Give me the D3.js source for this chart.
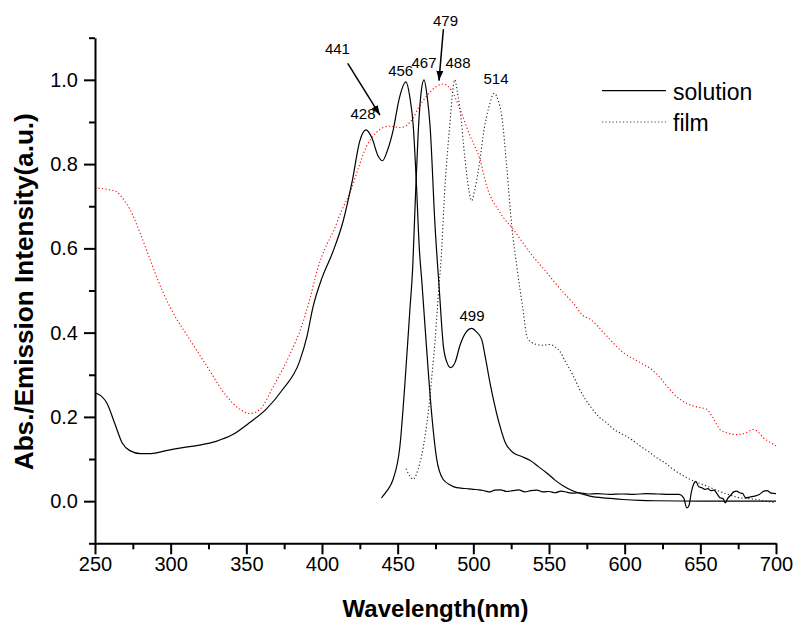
<!DOCTYPE html>
<html>
<head>
<meta charset="utf-8">
<script src="https://cdn.jsdelivr.net/npm/d3@7"></script>
<style>
  body { margin: 0; background: #fff; }
  svg { font-family: "Liberation Sans", Arial, sans-serif; }
</style>
</head>
<body>
<div id="chart"></div>
<script>
// wavelength (nm), value pairs
const solutionAbs = [
  [250,0.257],[254,0.25],[258,0.232],[263,0.185],[268,0.138],[273,0.12],[280,0.113],[287,0.113],
  [297,0.12],[308,0.127],[319,0.133],[330,0.142],[341,0.158],[352,0.186],[363,0.218],[374,0.265],
  [385,0.33],[390,0.39],[394,0.46],[400,0.53],[407,0.59],[414,0.665],[420,0.76],[425,0.855],
  [429,0.881],[433,0.862],[437,0.82],[440,0.808],[443,0.83],[447,0.88],[451,0.955],[455.5,0.995],
  [458,0.96],[460.3,0.891],[462.3,0.76],[464.3,0.6],[466,0.52],[469,0.368],[472.4,0.21],[475.8,0.1],
  [480,0.052],[485,0.038],[489,0.032],[495,0.030],[500,0.028],[504,0.027],[508,0.024],[511,0.022],
  [514,0.026],[518,0.027],[522,0.023],[526,0.025],[530,0.027],[534,0.022],[538,0.025],[542,0.026],
  [546,0.022],[550,0.023],[554,0.020],[558,0.024],[562,0.021],[566,0.019],[570,0.02],[576,0.017],
  [582,0.018],[590,0.016],[598,0.017],[606,0.016],[614,0.018],[622,0.017],[630,0.016],[636,0.016],
  [639,0.008],[641,-0.016],[642.5,-0.01],[644,0.02],[645.5,0.04],[647,0.047],[649,0.034],[651,0.032],
  [653,0.028],[655,0.03],[657,0.025],[659,0.026],[661,0.018],[663,0.008],[665,0.006],[666.5,-0.004],
  [668,0.006],[670,0.014],[672,0.022],[674,0.024],[676,0.02],[678,0.018],[680,0.008],[683,0.010],
  [686,0.012],[689,0.016],[692,0.024],[694,0.025],[697,0.019],[700,0.018]
]

const solutionEm = [
  [439.3,0.008],[443,0.025],[447,0.052],[451.5,0.131],[454.8,0.28],[458,0.45],[460,0.56],[461.5,0.7],
  [463.5,0.87],[465.5,0.97],[467.4,1.0],[469.5,0.96],[471.4,0.891],[474.7,0.653],[477.5,0.503],
  [480.2,0.368],[482.5,0.33],[485,0.317],[488,0.33],[491.2,0.37],[495,0.4],[499,0.41],[502,0.402],
  [505.5,0.384],[508,0.34],[511,0.281],[514,0.23],[517.6,0.178],[521,0.14],[526.4,0.115],[532,0.106],
  [537.4,0.097],[543,0.082],[548.5,0.067],[554,0.05],[559.5,0.036],[566,0.024],[577,0.012],[588,0.007],
  [599,0.004],[610,0.002],[621,0.001],[650,0.0],[700,0.0]
]

const filmAbs = [
  [250,0.744],[258,0.74],[264,0.735],[268,0.72],[273,0.693],[279.7,0.6375],[286.3,0.574],[295,0.495],
  [304,0.432],[310.6,0.395],[323.8,0.321],[337,0.249],[345.8,0.218],[352.4,0.208],[359,0.218],
  [368,0.273],[379,0.35],[386,0.41],[392,0.48],[397,0.55],[402,0.6],[407.5,0.64],[413,0.69],
  [418.5,0.7325],[424,0.79],[429.5,0.843],[434,0.868],[438.3,0.882],[443.8,0.89],[451.5,0.887],
  [455,0.89],[460.3,0.91],[464,0.935],[469.2,0.962],[474,0.98],[480.2,0.99],[485.7,0.974],[491.2,0.93],
  [497.8,0.867],[504.4,0.811],[508.8,0.748],[517.6,0.685],[526.4,0.645],[537.4,0.59],[548.5,0.5425],
  [559.5,0.495],[566,0.47],[572.7,0.44],[577.1,0.432],[588.1,0.392],[599.1,0.3525],[610.2,0.329],
  [619,0.309],[623,0.295],[627.9,0.273],[636.6,0.2416],[645.4,0.226],[650,0.222],[654.2,0.218],
  [658,0.2],[663,0.170],[668,0.162],[674,0.158],[680,0.162],[685,0.170],[688,0.165],[691.6,0.1506],
  [696,0.14],[700,0.131]
]

const filmEm = [
  [455.5,0.077],[458,0.06],[460.3,0.052],[462.5,0.065],[464.7,0.091],[467,0.13],[469.1,0.18],
  [471.4,0.25],[472.4,0.289],[474.7,0.38],[477.5,0.52],[478.4,0.558],[481.3,0.75],[484.6,0.9],
  [486,0.96],[487.7,1.0],[489.5,0.97],[491.2,0.93],[494.5,0.811],[497,0.74],[498.9,0.713],[501,0.74],
  [504.4,0.811],[507,0.88],[509.9,0.93],[513.9,0.968],[516.5,0.95],[518.8,0.914],[522,0.796],
  [525.4,0.653],[528.7,0.558],[533.1,0.4475],[535.3,0.392],[538,0.378],[541.9,0.372],[546,0.37],
  [550.7,0.372],[554,0.366],[557.3,0.355],[561,0.33],[566.1,0.297],[571,0.26],[577.1,0.226],[583,0.2],
  [588.1,0.186],[593,0.17],[599.1,0.158],[605,0.145],[610.2,0.131],[616,0.117],[621.2,0.103],[627,0.09],
  [632.2,0.075],[638,0.062],[643.2,0.052],[649,0.043],[654.2,0.036],[660,0.027],[665.2,0.02],
  [670,0.014],[676.2,0.008],[682,0.006],[687.2,0.004],[693,0.0],[700,-0.004]
]

// peak labels: text, nm, value at baseline
const peakLabels = [
  ["428",427.1,0.907],["441",410.2,1.061],["456",452,1.009],["467",467.4,1.0275],
  ["479",481.6,1.128],["488",489.9,1.0275],["514",515,0.99],["499",499.1,0.428]
]

// arrows: from [nm, value] to [nm, value]
const arrows = [
  [[417,1.039],[438.3,0.916]],
  [[480.2,1.12],[477.3,0.998]]
]

const xTicks = [250,300,350,400,450,500,550,600,650,700]
const xMinor = d3.range(275,700,50)
const yTicks = [0.0,0.2,0.4,0.6,0.8,1.0]
const yMinor = [-0.1,0.1,0.3,0.5,0.7,0.9,1.1]

const width = 795
const height = 624
const margin = { top: 37.7, right: 19, bottom: 80.7, left: 95 }

const svg = d3.select("#chart")
    .append("svg")
    .attr("width", width)
    .attr("height", height)

const x = d3.scaleLinear()
    .domain([250, 700])
    .range([margin.left, width - margin.right])

const y = d3.scaleLinear()
    .domain([-0.1, 1.1])
    .range([height - margin.bottom, margin.top])

const line = d3.line()
    .x(d => x(d[0]))
    .y(d => y(d[1]))
    .curve(d3.curveMonotoneX)

svg.append("path").datum(filmAbs)
    .attr("d", line).attr("fill", "none")
    .attr("stroke", "#ff0000").attr("stroke-width", 1.1)
    .attr("stroke-dasharray", "1.2,2.3")

svg.append("path").datum(filmEm)
    .attr("d", line).attr("fill", "none")
    .attr("stroke", "#222").attr("stroke-width", 1.1)
    .attr("stroke-dasharray", "1.2,2.3")

svg.append("path").datum(solutionAbs)
    .attr("d", line).attr("fill", "none")
    .attr("stroke", "#000").attr("stroke-width", 1.2)

svg.append("path").datum(solutionEm)
    .attr("d", line).attr("fill", "none")
    .attr("stroke", "#000").attr("stroke-width", 1.2)

// axes
svg.append("g")
    .attr("transform", `translate(0,${height - margin.bottom})`)
    .call(d3.axisBottom(x).tickValues(xTicks).tickSize(11).tickSizeOuter(0).tickPadding(2.5).tickFormat(d3.format("d")))
svg.append("g")
    .attr("transform", `translate(0,${height - margin.bottom})`)
    .call(d3.axisBottom(x).tickValues(xMinor).tickSize(6).tickFormat(""))
    .call(g => g.select(".domain").remove())

svg.append("g")
    .attr("transform", `translate(${margin.left},0)`)
    .call(d3.axisLeft(y).tickValues(yTicks).tickSize(11).tickSizeOuter(0).tickPadding(6).tickFormat(d3.format(".1f")))
svg.append("g")
    .attr("transform", `translate(${margin.left},0)`)
    .call(d3.axisLeft(y).tickValues(yMinor).tickSize(6).tickFormat(""))
    .call(g => g.select(".domain").remove())

svg.selectAll(".domain, .tick line").attr("stroke", "#000").attr("stroke-width", 2)
svg.selectAll(".tick text")
    .attr("font-family", "'Liberation Sans', Arial, sans-serif")
    .attr("font-size", 20).attr("fill", "#000")

// axis titles
svg.append("text")
    .attr("x", (margin.left + width - margin.right) / 2)
    .attr("y", 616.7)
    .attr("text-anchor", "middle")
    .attr("font-size", 24).attr("font-weight", "bold")
    .text("Wavelength(nm)")

svg.append("text")
    .attr("transform", "translate(33,291.7) rotate(-90)")
    .attr("text-anchor", "middle")
    .attr("font-size", 25).attr("font-weight", "bold")
    .attr("textLength", 357).attr("lengthAdjust", "spacingAndGlyphs")
    .text("Abs./Emission Intensity(a.u.)")

// peak labels
svg.selectAll(".peak")
    .data(peakLabels)
    .enter()
    .append("text")
    .attr("x", d => x(d[1]))
    .attr("y", d => y(d[2]))
    .attr("text-anchor", "middle")
    .attr("font-size", 15)
    .text(d => d[0])

// arrows
svg.append("defs").append("marker")
    .attr("id", "head")
    .attr("viewBox", "0 0 10 10")
    .attr("refX", 10).attr("refY", 5)
    .attr("markerWidth", 10).attr("markerHeight", 10)
    .attr("markerUnits", "userSpaceOnUse")
    .attr("orient", "auto")
    .append("path").attr("d", "M0,1.5L10,5L0,8.5Z").attr("fill", "#000")

svg.selectAll(".arrow")
    .data(arrows)
    .enter()
    .append("line")
    .attr("x1", d => x(d[0][0])).attr("y1", d => y(d[0][1]))
    .attr("x2", d => x(d[1][0])).attr("y2", d => y(d[1][1]))
    .attr("stroke", "#000").attr("stroke-width", 1.5)
    .attr("marker-end", "url(#head)")

// legend
const legend = svg.append("g")
legend.append("line")
    .attr("x1", 602).attr("x2", 666).attr("y1", 90.7).attr("y2", 90.7)
    .attr("stroke", "#000").attr("stroke-width", 1.2)
legend.append("text").attr("x", 673).attr("y", 100).attr("font-size", 23).text("solution")
legend.append("line")
    .attr("x1", 602).attr("x2", 666).attr("y1", 122).attr("y2", 122)
    .attr("stroke", "#444").attr("stroke-width", 1.1).attr("stroke-dasharray", "1.2,2.3")
legend.append("text").attr("x", 673).attr("y", 130.7).attr("font-size", 23).text("film")
</script>
</body>
</html>
